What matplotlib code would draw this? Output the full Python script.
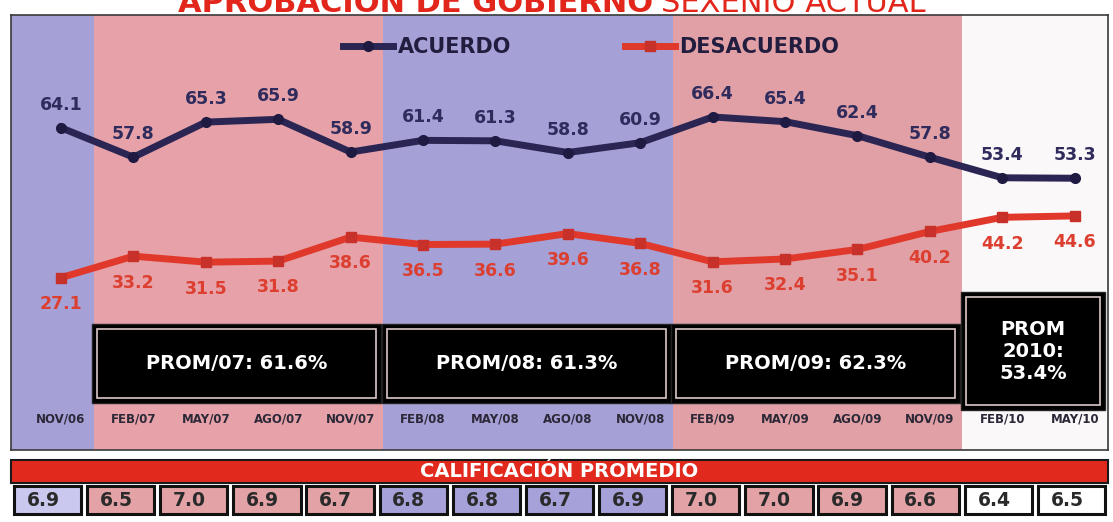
import numpy as np
import matplotlib.pyplot as plt
from matplotlib.patches import Rectangle

# Datos de la gráfica
fechas = ["NOV/06", "FEB/07", "MAY/07", "AGO/07", "NOV/07",
          "FEB/08", "MAY/08", "AGO/08", "NOV/08",
          "FEB/09", "MAY/09", "AGO/09", "NOV/09",
          "FEB/10", "MAY/10"]
acuerdo = [64.1, 57.8, 65.3, 65.9, 58.9, 61.4, 61.3, 58.8, 60.9,
           66.4, 65.4, 62.4, 57.8, 53.4, 53.3]
desacuerdo = [27.1, 33.2, 31.5, 31.8, 38.6, 36.5, 36.6, 39.6, 36.8,
              31.6, 32.4, 35.1, 40.2, 44.2, 44.6]
calificacion = [6.9, 6.5, 7.0, 6.9, 6.7, 6.8, 6.8, 6.7, 6.9,
                7.0, 7.0, 6.9, 6.6, 6.4, 6.5]

# periodo al que pertenece cada medición
grupo = [0, 1, 1, 1, 1, 2, 2, 2, 2, 3, 3, 3, 3, 4, 4]
promedios = {1: "PROM/07: 61.6%", 2: "PROM/08: 61.3%",
             3: "PROM/09: 62.3%", 4: "PROM\n2010:\n53.4%"}

color_banda = ["#a5a0d6", "#e6a2a8", "#a5a0d6", "#e0a0a5", "#fbf8f9"]
color_celda = ["#cac8ee", "#e3a2a5", "#a6a2d9", "#e3a2a5", "#ffffff"]
AZUL = "#2b2553"
ROJO = "#e0392b"

W, H = 1113, 522


def px(x0, y0, x1, y1):
    return [x0 / W, 1 - y1 / H, (x1 - x0) / W, (y1 - y0) / H]


fig = plt.figure(figsize=(W / 100, H / 100), dpi=100)
fig.patch.set_facecolor("white")

ax = fig.add_axes(px(11, 15, 1108, 450))
x = np.arange(len(fechas))
ax.set_xlim(-0.69, 14.46)
ax.set_ylim(-4.8, 88.2)
ax2 = ax.twinx()
ax2.set_ylim(-21.7, 101.5)

# bandas de fondo por año
g = np.array(grupo)
inicios = [np.where(g == k)[0][0] for k in range(5)]
finales = [np.where(g == k)[0][-1] for k in range(5)]
bordes = [ax.get_xlim()[0]] + [s - 0.55 for s in inicios[1:]] + [ax.get_xlim()[1]]
for k in range(5):
    ax.axvspan(bordes[k], bordes[k + 1], color=color_banda[k], lw=0, zorder=0)

# líneas
l1, = ax.plot(x, acuerdo, color=AZUL, lw=5, marker="o", ms=7,
              mfc="#1f1a42", mec="#1f1a42", label="ACUERDO", zorder=4)
l2, = ax2.plot(x, desacuerdo, color=ROJO, lw=5, marker="s", ms=7,
               mfc="#c8302a", mec="#c8302a", label="DESACUERDO", zorder=4)

for xi, v in zip(x, acuerdo):
    ax.annotate(f"{v:.1f}", (xi, v), xytext=(0, 16.5), textcoords="offset points",
                ha="center", va="center", fontsize=12.5, fontweight="bold",
                color="#2f2b5c", zorder=5)
for xi, v in zip(x, desacuerdo):
    ax2.annotate(f"{v:.1f}", (xi, v), xytext=(0, -19), textcoords="offset points",
                 ha="center", va="center", fontsize=12.5, fontweight="bold",
                 color="#dc3f30", zorder=5)

# leyendas
leg1 = ax2.legend(handles=[l1], loc="center left", bbox_to_anchor=(0.303, 0.926),
                  frameon=False, borderpad=0, borderaxespad=0, handlelength=2.4,
                  handletextpad=0.2, prop={"size": 15, "weight": "bold"})
ax2.add_artist(leg1)
ax2.legend(handles=[l2], loc="center left", bbox_to_anchor=(0.560, 0.926),
           frameon=False, borderpad=0, borderaxespad=0, handlelength=2.4,
           handletextpad=0.2, prop={"size": 15, "weight": "bold"})
for t in leg1.get_texts() + ax2.get_legend().get_texts():
    t.set_color("#221d3f")

# cajas de promedio
trans = ax.get_xaxis_transform()
for k, texto in promedios.items():
    x0 = inicios[k] - 0.57
    x1 = finales[k] + 0.42
    if k == 4:
        y0, y1 = 0.092, 0.363
    else:
        y0, y1 = 0.108, 0.29
    ax.add_patch(Rectangle((x0, y0), x1 - x0, y1 - y0, transform=trans,
                           fc="black", ec="#222222", lw=1, zorder=3))
    ax.add_patch(Rectangle((x0 + 0.07, y0 + 0.012), x1 - x0 - 0.14, y1 - y0 - 0.024,
                           transform=trans, fc="none", ec="#dcc8c8", lw=1.2, zorder=3))
    ax.text((x0 + x1) / 2, (y0 + y1) / 2, texto, transform=trans, ha="center",
            va="center", color="white", fontsize=14, fontweight="bold",
            linespacing=1.2, zorder=4)

# etiquetas de fecha dentro del panel
ax.set_xticks(x, fechas)
ax.tick_params(axis="x", length=0, pad=-27, labelsize=8.5, labelcolor="#2c2838")
for lab in ax.get_xticklabels():
    lab.set_fontweight("bold")
ax.set_yticks([])
ax2.set_yticks([])
for s in ax.spines.values():
    s.set_color("#3a3a3a")
    s.set_linewidth(1.2)
for s in ax2.spines.values():
    s.set_visible(False)

# tabla de calificación
tax = fig.add_axes(px(11, 460, 1108, 515))
tax.set_xlim(-0.5, len(fechas) - 0.5)
tax.set_ylim(0, 1)
tax.axis("off")
tax.add_patch(Rectangle((-0.5, 0.582), len(fechas), 0.418, fc="#e2291e",
                        ec="#1a1a1a", lw=1.5, clip_on=False))
tax.text((len(fechas) - 1) / 2, 0.79, "CALIFICACIÓN PROMEDIO", ha="center",
         va="center", color="white", fontsize=14, fontweight="bold")
for i, v in enumerate(calificacion):
    tax.add_patch(Rectangle((i - 0.46, 0.02), 0.92, 0.5, fc=color_celda[grupo[i]],
                            ec="#111111", lw=2.2, clip_on=False))
    tax.text(i - 0.06, 0.27, f"{v:.1f}", ha="center", va="center",
             fontsize=13.5, fontweight="bold", color="#2a2a2a")

# título (cortado en la parte superior, como en el original)
t1 = fig.text(178 / W, 1 - 12 / H, "APROBACIÓN DE GOBIERNO", fontsize=22,
              fontweight="bold", color="#e3261b", va="baseline")
fig.canvas.draw()
bb = t1.get_window_extent()
fig.text((bb.x1 + 8) / W, 1 - 12 / H, "SEXENIO ACTUAL", fontsize=22,
         color="#e3261b", va="baseline")

fig.savefig("out.png", dpi=100)
